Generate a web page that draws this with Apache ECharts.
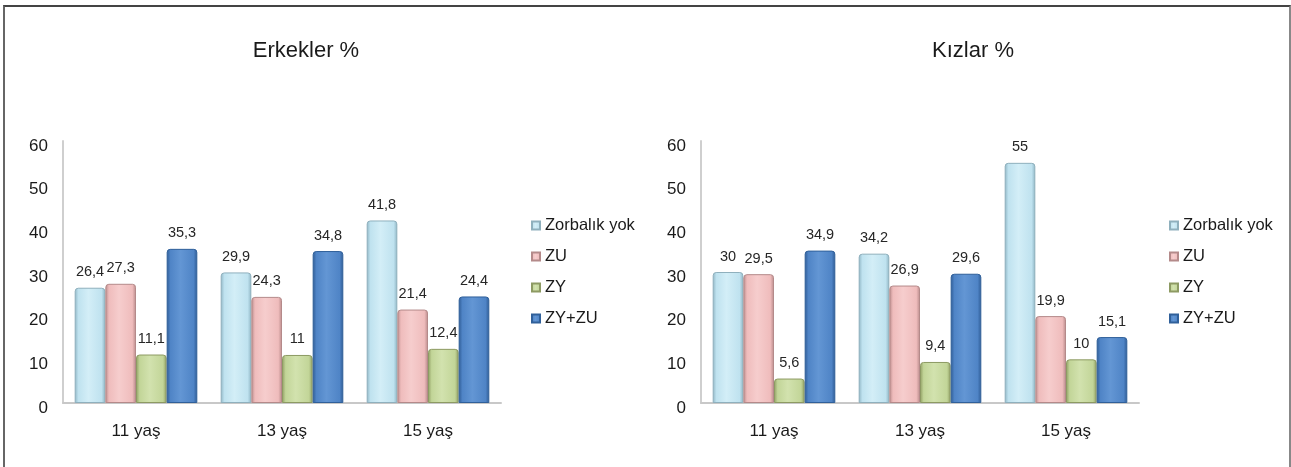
<!DOCTYPE html>
<html>
<head>
<meta charset="utf-8">
<title>Erkekler % / Kızlar %</title>
<script src="https://cdn.jsdelivr.net/npm/echarts@6/dist/echarts.min.js"></script>
<style>
  html, body { margin: 0; padding: 0; background: #ffffff; }
  #frame {
    position: absolute; left: 3px; top: 5px; width: 1284px; height: 470px;
    border-top: 2px solid #444; border-left: 2px solid #666; border-right: 2px solid #888;
  }
  #chart { position: absolute; left: 0; top: 0; width: 1291px; height: 467px; }
</style>
</head>
<body>
<div id="frame"></div>
<div id="chart"></div>
<script>
// Age groups on the x axis
const categories = ['11 yaş', '13 yaş', '15 yaş'];
// Bullying status groups
const seriesNames = ['Zorbalık yok', 'ZU', 'ZY', 'ZY+ZU'];
const yTicks = [0, 10, 20, 30, 40, 50, 60];

// Boys (%), one array per status group
const boysNone  = [26.4, 29.9, 41.8];
const boysZU    = [27.3, 24.3, 21.4];
const boysZY    = [11.1, 11, 12.4];
const boysZYZU  = [35.3, 34.8, 24.4];

// Girls (%)
const girlsNone = [30, 34.2, 55];
const girlsZU   = [29.5, 26.9, 19.9];
const girlsZY   = [5.6, 9.4, 10];
const girlsZYZU = [34.9, 29.6, 15.1];

const panels = [
  { title: 'Erkekler %', data: [boysNone, boysZU, boysZY, boysZYZU] },
  { title: 'Kızlar %',   data: [girlsNone, girlsZU, girlsZY, girlsZYZU] }
];

// Cylinder-like shading: darker edges, lighter centre
function shade(edge, mid, light) {
  return new echarts.graphic.LinearGradient(0, 0, 1, 0, [
    { offset: 0, color: edge },
    { offset: 0.12, color: mid },
    { offset: 0.45, color: light },
    { offset: 0.88, color: mid },
    { offset: 1, color: edge }
  ]);
}
const fills = [
  shade('#8fb5c4', '#bfe2ef', '#d3eef7'),
  shade('#b88a8a', '#efbcbc', '#f6cdcd'),
  shade('#8f9d62', '#c2d598', '#d2e2ae'),
  shade('#2d5a93', '#4f84c6', '#6396d4')
];
const borders = ['#8fb0bd', '#b48a8a', '#8d9a63', '#30609a'];

const font = 'Liberation Sans, Arial, sans-serif';
const gridLefts = [63, 701];
const titleCenters = [301, 968];
const legendLefts = [526, 1164];

const option = {
  animation: false,
  textStyle: { fontFamily: font },
  title: panels.map((p, i) => ({
    text: p.title,
    left: titleCenters[i], top: 35, textAlign: 'center',
    textStyle: { fontSize: 22, fontWeight: 'normal', color: '#1a1a1a', fontFamily: font }
  })),
  legend: panels.map((p, i) => ({
    data: seriesNames,
    orient: 'vertical',
    left: legendLefts[i], top: 212,
    icon: 'rect', itemWidth: 8, itemHeight: 8, itemGap: 14,
    selectedMode: false,
    textStyle: { fontSize: 16.5, color: '#1a1a1a', lineHeight: 17, fontFamily: font }
  })),
  grid: panels.map((p, i) => ({
    left: gridLefts[i], width: 438, top: 141, height: 262, containLabel: false
  })),
  xAxis: panels.map((p, i) => ({
    type: 'category', gridIndex: i, data: categories,
    axisLine: { lineStyle: { color: '#c8c8c8', width: 2 } },
    axisTick: { show: false },
    axisLabel: { fontSize: 17, color: '#1a1a1a', margin: 20, fontFamily: font }
  })),
  yAxis: panels.map((p, i) => ({
    type: 'value', gridIndex: i,
    min: yTicks[0], max: yTicks[yTicks.length - 1], interval: 10,
    axisLine: { show: true, lineStyle: { color: '#cfcfcf', width: 2 } },
    axisTick: { show: false },
    splitLine: { show: false },
    axisLabel: {
      fontSize: 17, color: '#1a1a1a', margin: 15,
      verticalAlign: 'top', lineHeight: 10, fontFamily: font
    }
  })),
  series: []
};

panels.forEach((p, i) => {
  p.data.forEach((vals, k) => {
    option.series.push({
      type: 'bar',
      name: seriesNames[k],
      xAxisIndex: i, yAxisIndex: i,
      data: vals,
      barGap: '0%',
      barCategoryGap: '16%',
      itemStyle: { color: fills[k], borderColor: borders[k], borderWidth: 1, borderRadius: [3, 3, 0, 0] },
      label: {
        show: true, position: 'top', distance: 8,
        fontSize: 14.5, color: '#262626', fontFamily: font,
        formatter: (d) => String(d.value).replace('.', ',')
      }
    });
  });
});

const chart = echarts.init(document.getElementById('chart'), null, { renderer: 'canvas' });
chart.setOption(option);
</script>
</body>
</html>
